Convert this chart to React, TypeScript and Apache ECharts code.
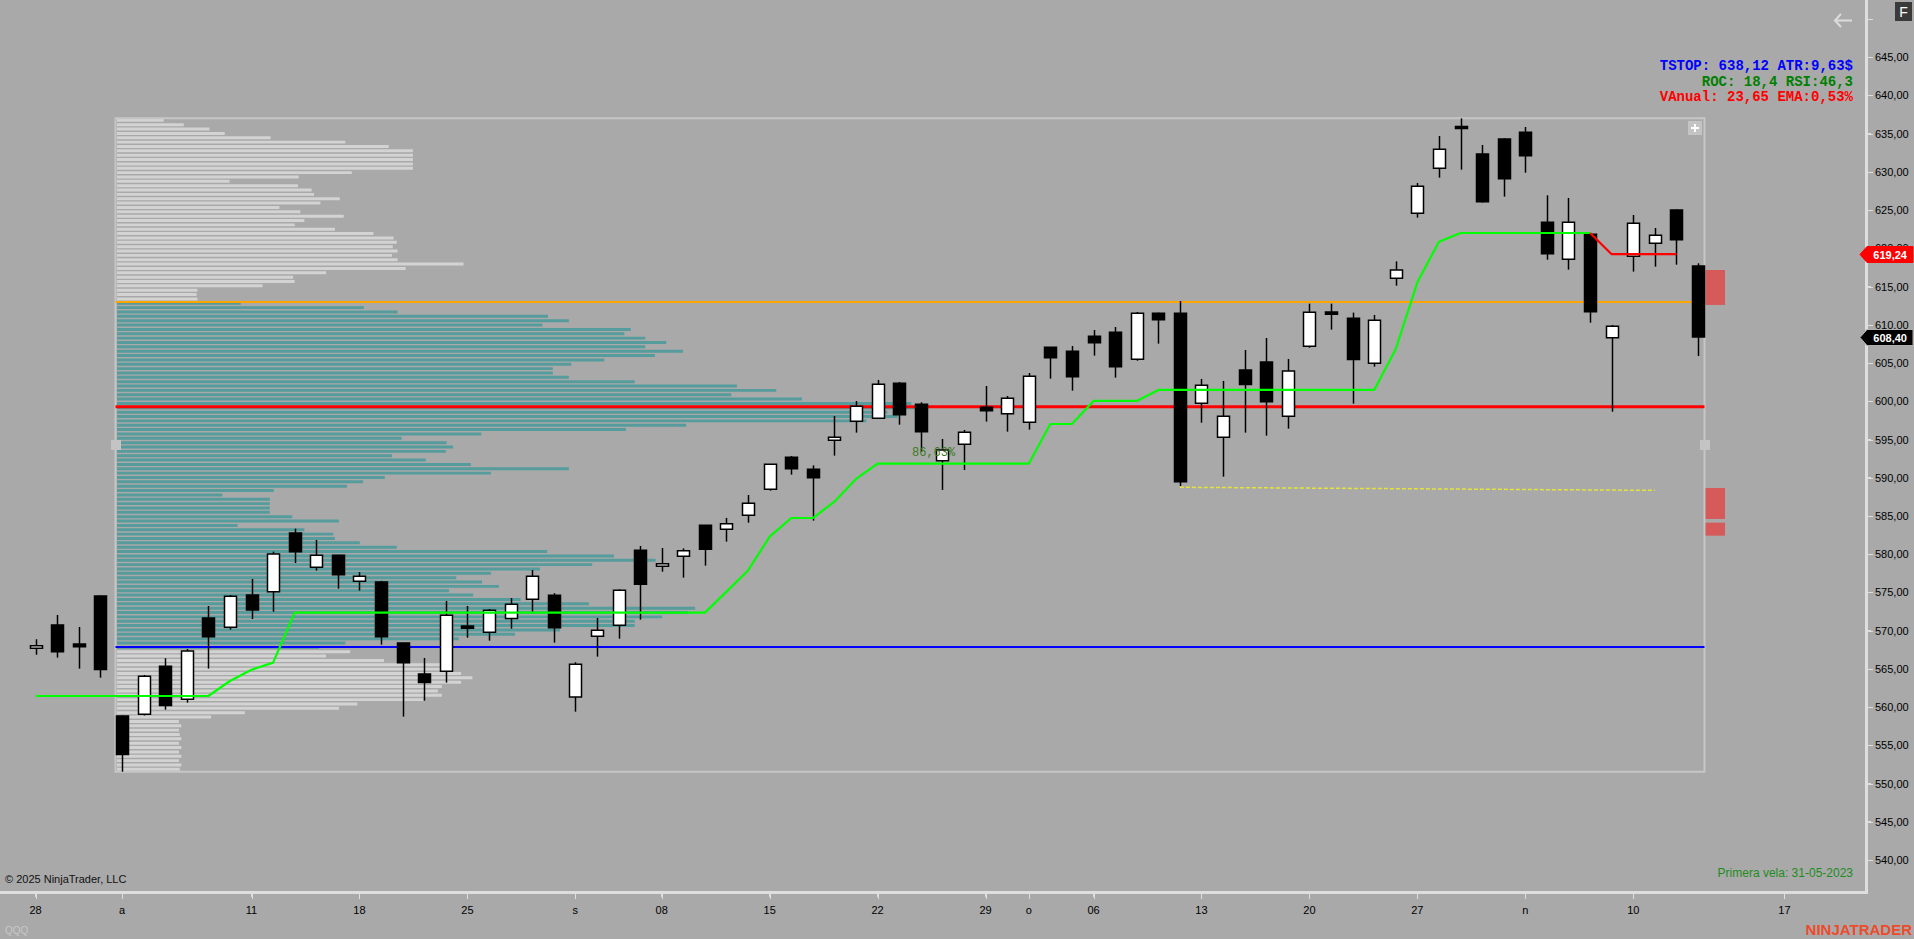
import React, { useEffect, useRef } from "react";
import * as echarts from "echarts";

// ---------- data ----------
const DATES = [
  "2025-07-28","2025-07-29","2025-07-30","2025-07-31","2025-08-01","2025-08-04","2025-08-05","2025-08-06","2025-08-07","2025-08-08",
  "2025-08-11","2025-08-12","2025-08-13","2025-08-14","2025-08-15","2025-08-18","2025-08-19","2025-08-20","2025-08-21","2025-08-22",
  "2025-08-25","2025-08-26","2025-08-27","2025-08-28","2025-08-29","2025-09-02","2025-09-03","2025-09-04","2025-09-05","2025-09-08",
  "2025-09-09","2025-09-10","2025-09-11","2025-09-12","2025-09-15","2025-09-16","2025-09-17","2025-09-18","2025-09-19","2025-09-22",
  "2025-09-23","2025-09-24","2025-09-25","2025-09-26","2025-09-29","2025-09-30","2025-10-01","2025-10-02","2025-10-03","2025-10-06",
  "2025-10-07","2025-10-08","2025-10-09","2025-10-10","2025-10-13","2025-10-14","2025-10-15","2025-10-16","2025-10-17","2025-10-20",
  "2025-10-21","2025-10-22","2025-10-23","2025-10-24","2025-10-27","2025-10-28","2025-10-29","2025-10-30","2025-10-31","2025-11-03",
  "2025-11-04","2025-11-05","2025-11-06","2025-11-07","2025-11-10","2025-11-11","2025-11-12","2025-11-13",
];
const OPEN = [
  567.69,570.74,568.25,574.53,558.84,559.05,565.33,561.02,571.65,570.43,
  574.66,575.10,582.77,578.28,579.85,576.45,576.36,568.38,564.33,564.68,
  570.60,569.78,571.57,574.10,574.62,561.32,569.26,570.69,580.50,578.41,
  579.72,583.78,583.25,585.08,588.48,592.67,591.10,594.89,597.38,597.77,
  602.35,599.60,592.23,594.37,599.21,598.38,597.25,607.06,606.54,608.50,
  609.02,605.49,611.51,611.51,599.73,595.29,604.09,605.14,598.03,607.19,
  611.68,610.85,604.97,616.09,624.59,630.47,635.90,632.35,634.31,635.18,
  623.41,618.57,621.84,608.32,618.96,620.66,625.02,617.70,
];
const HIGH = [
  568.87,572.05,570.48,574.60,558.90,564.20,566.38,567.60,573.22,574.66,
  576.76,580.33,583.34,581.86,579.90,577.67,576.50,568.40,566.42,573.88,
  573.22,572.83,574.27,577.93,574.90,565.86,571.65,575.40,581.07,580.81,
  580.75,583.80,584.74,587.74,591.80,592.85,591.62,598.08,600.04,602.79,
  602.52,599.87,595.07,596.25,602.00,600.69,603.70,607.10,607.23,609.33,
  609.72,611.68,611.60,613.12,602.92,602.66,606.71,608.28,605.53,612.77,
  612.77,611.60,611.29,618.30,628.56,634.70,637.01,633.53,634.40,635.88,
  626.94,626.59,622.00,609.98,624.37,622.67,625.10,618.05,
];
const LOW = [
  566.85,566.47,565.03,563.85,551.55,558.90,559.66,560.58,565.03,570.13,
  571.52,572.48,578.85,577.85,575.49,575.23,568.17,558.75,560.84,563.20,
  569.08,568.69,570.26,572.48,568.43,559.40,566.60,568.95,571.44,577.71,
  576.93,578.50,581.64,584.12,588.30,590.40,584.39,592.89,595.90,597.70,
  596.94,593.41,588.40,591.01,597.34,596.03,596.29,602.96,601.39,605.97,
  603.09,605.30,607.54,588.92,597.20,590.14,595.90,595.50,596.42,607.00,
  609.37,599.69,604.53,615.12,624.02,629.25,630.30,626.00,626.77,629.90,
  618.52,617.22,610.28,598.64,616.96,617.61,617.87,605.93,
];
const CLOSE = [
  568.03,567.25,567.90,564.90,553.78,564.02,560.19,567.34,569.21,574.49,
  572.70,580.03,580.33,579.85,577.32,577.10,569.21,565.81,563.20,572.00,
  570.30,572.66,573.44,577.10,570.39,565.60,570.04,575.27,576.06,578.76,
  580.46,580.64,583.99,586.65,591.75,591.19,590.01,595.29,599.34,602.22,
  598.25,596.03,593.63,595.94,598.77,600.39,603.27,605.71,603.22,607.67,
  604.53,611.51,610.67,589.49,602.09,598.03,602.18,599.95,603.96,611.64,
  611.38,605.45,610.59,617.17,628.12,632.96,635.70,626.11,629.12,632.13,
  619.31,623.41,611.72,609.81,623.28,621.71,621.14,608.40,
];

// Trailing stop (TSTOP) per bar; long (green) up to the flip bar, then short (red)
const TSTOP = [
  561.45,561.45,561.45,561.45,561.45,561.45,561.45,561.45,561.45,563.41,
  564.89,565.81,572.35,572.35,572.35,572.35,572.35,572.35,572.35,572.35,
  572.35,572.35,572.35,572.35,572.35,572.35,572.35,572.35,572.35,572.35,
  572.35,572.35,575.10,577.87,582.29,584.73,584.73,586.87,589.84,591.84,
  591.84,591.84,591.84,591.84,591.84,591.84,591.84,597.03,597.03,600.04,
  600.04,600.04,601.48,601.48,601.48,601.48,601.48,601.48,601.48,601.48,
  601.48,601.48,601.48,606.84,615.56,620.88,622.01,622.01,622.01,622.01,
  622.01,622.01,622.01,619.24,619.24,619.24,619.24,
];
const TSTOP_FLIP_DATE = "2025-11-06";

// Volume profile (Aug 1 -> Nov 13), 150 rows from top (high) to bottom (low), % of POC volume
const PROFILE_START_DATE = "2025-08-01";
const PROFILE_HIGH = 637.01;
const PROFILE_LOW = 551.55;
const PROFILE_VOLUME = [
  5.8, 8.3, 11.5, 13.4, 19.1, 28.4, 33.8, 36.8, 36.8, 36.8,
  36.8, 36.8, 29.2, 22.6, 14.0, 22.5, 24.2, 24.5, 27.7, 25.3,
  20.2, 22.8, 28.2, 23.3, 22.1, 27.1, 31.9, 34.4, 34.8, 34.3,
  34.9, 34.2, 34.9, 43.1, 35.9, 26.0, 21.9, 22.1, 18.1, 10.0,
  9.9, 10.0, 15.4, 30.7, 34.9, 53.6, 56.2, 52.9, 63.9, 63.1,
  65.7, 68.3, 65.7, 70.4, 66.9, 60.6, 56.5, 54.2, 54.2, 56.2,
  64.4, 77.1, 82.0, 76.4, 85.2, 98.8, 100, 95.8, 97.1, 93.2,
  70.8, 63.3, 45.3, 35.4, 41.0, 41.8, 40.9, 34.2, 38.4, 44.0,
  56.2, 46.5, 33.3, 30.6, 28.6, 19.5, 13.1, 19.0, 19.0, 19.0,
  19.0, 21.8, 27.6, 15.0, 23.3, 26.9, 27.1, 30.2, 34.8, 53.5,
  61.8, 67.0, 59.1, 52.6, 46.5, 42.2, 45.4, 47.5, 41.3, 44.3,
  50.2, 58.7, 71.9, 71.0, 67.8, 64.4, 64.4, 55.1, 49.5, 42.5,
  28.4, 25.1, 29.0, 26.0, 33.2, 40.2, 40.3, 42.8, 44.2, 42.8,
  40.4, 39.9, 40.4, 38.1, 29.9, 27.6, 15.9, 11.7, 7.7, 8.0,
  7.7, 7.8, 8.0, 7.7, 8.0, 7.7, 8.0, 7.7, 8.0, 7.8,
];
const VAH = 613.0;
const POC = 599.3;
const VAL = 567.86;

// Zones to the right of the profile (top, bottom)
const ZONE_TOP = [617.17, 588.66, 584.12];
const ZONE_BOTTOM = [612.6, 584.6, 582.42];

// Dashed line from the Oct 10 low
const DASH_DATES = ["2025-10-10", "2025-11-11"];
const DASH_VALUES = [588.75, 588.35];

const STOP_PRICE = 619.24;
const LAST_PRICE = 608.40;

const X_TICK_DATES = [
  "2025-07-28","2025-08-01","2025-08-11","2025-08-18","2025-08-25","2025-09-02","2025-09-08","2025-09-15","2025-09-22",
  "2025-09-29","2025-10-01","2025-10-06","2025-10-13","2025-10-20","2025-10-27","2025-11-03","2025-11-10","2025-11-17",
];
const X_TICK_LABELS = ["28","a","11","18","25","s","08","15","22","29","o","06","13","20","27","n","10","17"];
const Y_TICKS = [540,545,550,555,560,565,570,575,580,585,590,595,600,605,610,615,620,625,630,635,640,645,650];
const Y_LABELS = [540,545,550,555,560,565,570,575,580,585,590,595,600,605,610,615,620,625,630,635,640,645];

const INFO_LINES = ["TSTOP: 638,12 ATR:9,63$", "ROC: 18,4 RSI:46,3", "VAnual: 23,65 EMA:0,53%"];
const INFO_COLORS = ["#0000ff", "#008000", "#ff0000"];
const PCT_LABEL = "86,63%";
const FIRST_BAR = "Primera vela: 31-05-2023";
const COPYRIGHT = "© 2025 NinjaTrader, LLC";
const INSTRUMENT = "QQQ";

// ---------- helpers ----------
const DAY = 86400000;
const lastIdx = DATES.length - 1;
function idxOf(d: string): number {
  const i = DATES.indexOf(d);
  if (i >= 0) return i;
  const diff = Math.round((Date.parse(d) - Date.parse(DATES[lastIdx])) / DAY);
  return lastIdx + diff;
}
const fmt = (v: number) => v.toFixed(2).replace(".", ",");

const X_MIN = -1.65;
const X_MAX = 84.78;
const Y_MIN = 535.81;
const Y_MAX = 652.49;
const BAR_PAD = 0.3;

const BG = "#a9a9a9";
const TEAL = "#579c9c";
const LIGHT = "#d3d3d3";
const AXIS = "#dedede";
const SANS = '"Liberation Sans", Arial, sans-serif';
const MONO = '"Liberation Mono", "DejaVu Sans Mono", monospace';

export default function App() {
  const ref = useRef<HTMLDivElement>(null);
  useEffect(() => {
    document.body.style.margin = "0";
    if (!ref.current) return;
    const chart = echarts.init(ref.current, undefined, { renderer: "svg" });

    const flip = idxOf(TSTOP_FLIP_DATE);
    const profStart = idxOf(PROFILE_START_DATE);
    const boxL = profStart - BAR_PAD;
    const boxR = lastIdx + BAR_PAD;
    const tickIdx = X_TICK_DATES.map(idxOf);
    const labelMap: Record<number, string> = {};
    tickIdx.forEach((i, k) => (labelMap[i] = X_TICK_LABELS[k]));
    const rows = PROFILE_VOLUME.length;
    const rowH = (PROFILE_HIGH - PROFILE_LOW) / rows;

    const hLine = (name: string, v: number, color: string, width: number) => ({
      type: "line",
      name,
      z: 3,
      silent: true,
      showSymbol: false,
      data: [[boxL, v], [boxR, v]],
      lineStyle: { color, width },
    });

    const option: any = {
      animation: false,
      backgroundColor: BG,
      grid: { left: 0, right: 48, top: 0, bottom: 47, containLabel: false },
      xAxis: [
        {
          type: "value",
          min: X_MIN,
          max: X_MAX,
          splitLine: { show: false },
          axisLine: { show: true, onZero: false, lineStyle: { color: AXIS, width: 2 } },
          axisTick: { show: true, length: 5, customValues: tickIdx, lineStyle: { color: AXIS, width: 1 } },
          axisLabel: {
            customValues: tickIdx,
            formatter: (v: number) => labelMap[Math.round(v)] ?? "",
            color: "#000",
            fontSize: 11,
            fontFamily: SANS,
            margin: 12,
          },
        },
        {
          type: "value",
          show: false,
          min: -14.43,
          max: 217.66,
          axisLine: { onZero: false },
        },
      ],
      yAxis: {
        type: "value",
        position: "right",
        min: Y_MIN,
        max: Y_MAX,
        splitLine: { show: false },
        axisLine: { show: true, onZero: false, lineStyle: { color: AXIS, width: 2 } },
        axisTick: { show: true, length: 5, customValues: Y_TICKS, lineStyle: { color: AXIS, width: 1 } },
        axisLabel: {
          customValues: Y_LABELS,
          formatter: (v: number) => fmt(v),
          color: "#000",
          fontSize: 11,
          fontFamily: SANS,
          margin: 9,
        },
      },
      series: [
        // volume profile rows
        {
          type: "custom",
          xAxisIndex: 1,
          yAxisIndex: 0,
          z: 1,
          silent: true,
          data: PROFILE_VOLUME.map((v, r) => [r, v]),
          renderItem: (params: any, api: any) => {
            const r = api.value(0);
            const v = api.value(1);
            const pTop = PROFILE_HIGH - r * rowH;
            const pBot = pTop - rowH;
            const a = api.coord([0, pTop]);
            const b = api.coord([v, pBot]);
            const h = b[1] - a[1];
            const inVA = pBot < VAH && pTop > VAL;
            return {
              type: "rect",
              shape: { x: a[0] + 1, y: a[1] + h * 0.12, width: b[0] - a[0], height: h * 0.68 },
              style: { fill: inVA ? TEAL : LIGHT },
            };
          },
        },
        // profile box
        {
          type: "custom",
          z: 2,
          silent: true,
          data: [[boxL, PROFILE_HIGH, boxR, PROFILE_LOW]],
          renderItem: (params: any, api: any) => {
            const a = api.coord([api.value(0), api.value(1)]);
            const b = api.coord([api.value(2), api.value(3)]);
            return {
              type: "rect",
              shape: { x: a[0], y: a[1], width: b[0] - a[0], height: b[1] - a[1] },
              style: { fill: "none", stroke: "#c6c6c6", lineWidth: 2 },
            };
          },
        },
        hLine("VAH", VAH, "#ffa500", 2),
        hLine("VAL", VAL, "#0000ff", 2),
        // candles
        {
          type: "custom",
          name: "QQQ",
          z: 5,
          silent: true,
          data: DATES.map((d, i) => [i, OPEN[i], CLOSE[i], LOW[i], HIGH[i]]),
          renderItem: (params: any, api: any) => {
            const i = api.value(0);
            const o = api.value(1), c = api.value(2), l = api.value(3), h = api.value(4);
            const pO = api.coord([i, o]);
            const pC = api.coord([i, c]);
            const pL = api.coord([i, l]);
            const pH = api.coord([i, h]);
            const w = Math.round(api.size([1, 0])[0] * 0.55);
            const x = Math.round(pO[0]) + 0.5;
            let top = Math.min(pO[1], pC[1]);
            let hh = Math.abs(pO[1] - pC[1]);
            if (hh < 2) {
              top = (pO[1] + pC[1]) / 2 - 1;
              hh = 2;
            }
            const up = c >= o;
            return {
              type: "group",
              children: [
                { type: "line", shape: { x1: x, y1: pH[1], x2: x, y2: pL[1] }, style: { stroke: "#000", lineWidth: 1.5 } },
                {
                  type: "rect",
                  shape: { x: x - w / 2, y: top, width: w, height: hh },
                  style: { fill: up ? "#ffffff" : "#000000", stroke: "#000", lineWidth: 1.5 },
                },
              ],
            };
          },
        },
        hLine("POC", POC, "#ff0000", 3),
        // dashed line
        {
          type: "line",
          z: 4,
          silent: true,
          showSymbol: false,
          data: DASH_DATES.map((d, k) => [idxOf(d), DASH_VALUES[k]]),
          lineStyle: { color: "#e4e43c", width: 1.5, type: [4, 2] },
        },
        // trailing stop
        {
          type: "line",
          name: "TSTOP long",
          z: 6,
          silent: true,
          showSymbol: false,
          data: TSTOP.slice(0, flip + 1).map((v, i) => [i, v]),
          lineStyle: { color: "#00ff00", width: 2.2 },
        },
        {
          type: "line",
          name: "TSTOP short",
          z: 6,
          silent: true,
          showSymbol: false,
          data: TSTOP.slice(flip).map((v, k) => [flip + k, v]),
          lineStyle: { color: "#ff0000", width: 2.2 },
        },
        // zones right of the profile
        {
          type: "custom",
          z: 3,
          silent: true,
          clip: false,
          data: ZONE_TOP.map((t, k) => [t, ZONE_BOTTOM[k]]),
          renderItem: (params: any, api: any) => {
            const a = api.coord([lastIdx + 0.35, api.value(0)]);
            const b = api.coord([lastIdx + 1.25, api.value(1)]);
            return {
              type: "rect",
              shape: { x: a[0], y: a[1], width: b[0] - a[0], height: b[1] - a[1] },
              style: { fill: "#d65a5a" },
            };
          },
        },
        // axis frame lines and tick marks (drawn through the axes' scales)
        {
          type: "custom",
          z: 15,
          silent: true,
          clip: false,
          data: [[X_MIN, Y_MIN, X_MAX, Y_MAX]],
          renderItem: (params: any, api: any) => {
            const bl = api.coord([api.value(0), api.value(1)]);
            const tr = api.coord([api.value(2), api.value(3)]);
            const xr = Math.round(tr[0]) + 1;
            const yb = Math.round(bl[1]) + 1;
            const children: any[] = [
              { type: "rect", shape: { x: xr - 1, y: 0, width: 2, height: yb + 1 }, style: { fill: AXIS } },
              { type: "rect", shape: { x: 0, y: yb - 1, width: xr + 1, height: 2 }, style: { fill: AXIS } },
            ];
            Y_TICKS.forEach((v) => {
              const y = Math.round(api.coord([X_MAX, v])[1]);
              children.push({ type: "rect", shape: { x: xr, y: y, width: 6, height: 1 }, style: { fill: AXIS } });
            });
            tickIdx.forEach((i) => {
              const x = Math.round(api.coord([i, Y_MIN])[0]);
              children.push({ type: "rect", shape: { x: x, y: yb, width: 1, height: 6 }, style: { fill: AXIS } });
            });
            return { type: "group", children };
          },
        },
        // price tags on the axis
        {
          type: "custom",
          z: 20,
          silent: true,
          clip: false,
          data: [[X_MAX, STOP_PRICE], [X_MAX, LAST_PRICE]],
          renderItem: (params: any, api: any) => {
            const p = api.value(1);
            const pt = api.coord([api.value(0), p]);
            const x = pt[0], y = Math.round(pt[1]) + 0.5;
            const isStop = params.dataIndex === 0;
            return {
              type: "group",
              children: [
                {
                  type: "polygon",
                  shape: { points: [[x - 6, y], [x + 1, y - 8], [x + 47, y - 8], [x + 47, y + 8], [x + 1, y + 8]] },
                  style: { fill: isStop ? "#ff0000" : "#000000", stroke: isStop ? "#ff0000" : "#b0b0b0", lineWidth: 1 },
                },
                {
                  type: "text",
                  style: {
                    text: fmt(p),
                    x: x + 41,
                    y,
                    textAlign: "right",
                    textVerticalAlign: "middle",
                    fill: "#ffffff",
                    font: `bold 11px ${SANS}`,
                  },
                },
              ],
            };
          },
        },
      ],
      graphic: [
        ...INFO_LINES.map((t, k) => ({
          type: "text",
          z: 100,
          style: {
            text: t,
            x: 1853,
            y: 66 + k * 15.5,
            textAlign: "right",
            textVerticalAlign: "middle",
            fill: INFO_COLORS[k],
            font: `bold 14px ${MONO}`,
          },
        })),
        {
          type: "text",
          z: 100,
          style: { text: PCT_LABEL, x: 912, y: 453, textVerticalAlign: "middle", fill: "#3d7a1f", font: `12px ${MONO}` },
        },
        {
          type: "text",
          z: 100,
          style: { text: FIRST_BAR, x: 1853, y: 873, textAlign: "right", textVerticalAlign: "middle", fill: "#1e8c1e", font: `12px ${SANS}` },
        },
        {
          type: "text",
          z: 100,
          style: { text: COPYRIGHT, x: 5, y: 879, textVerticalAlign: "middle", fill: "#111", font: `11px ${SANS}` },
        },
        {
          type: "text",
          z: 100,
          style: { text: INSTRUMENT, x: 5, y: 930, textVerticalAlign: "middle", fill: "#c8c8c8", font: `10px ${SANS}` },
        },
        {
          type: "text",
          z: 100,
          style: { text: "NINJATRADER", x: 1912, y: 929, textAlign: "right", textVerticalAlign: "middle", fill: "#ee4b2b", font: `bold 15px ${SANS}` },
        },
        // top-right buttons
        { type: "rect", z: 100, shape: { x: 1895, y: 2, width: 17, height: 19 }, style: { fill: "#3a3a3a" } },
        {
          type: "text",
          z: 101,
          style: { text: "F", x: 1903.5, y: 12, textAlign: "center", textVerticalAlign: "middle", fill: "#ffffff", font: `14px ${SANS}` },
        },
        { type: "line", z: 100, shape: { x1: 1835, y1: 20.5, x2: 1852, y2: 20.5 }, style: { stroke: "#dcdcdc", lineWidth: 2 } },
        { type: "polyline", z: 100, shape: { points: [[1841, 14], [1835, 20.5], [1841, 27]] }, style: { stroke: "#dcdcdc", lineWidth: 2, fill: "none" } },
        // profile box handles
        { type: "rect", z: 100, shape: { x: 1688, y: 121, width: 14, height: 14 }, style: { fill: "#c4c4c4" } },
        { type: "line", z: 101, shape: { x1: 1691, y1: 128, x2: 1699, y2: 128 }, style: { stroke: "#fff", lineWidth: 2 } },
        { type: "line", z: 101, shape: { x1: 1695, y1: 124, x2: 1695, y2: 132 }, style: { stroke: "#fff", lineWidth: 2 } },
        { type: "rect", z: 100, shape: { x: 111, y: 440, width: 10, height: 10 }, style: { fill: "#c4c4c4" } },
        { type: "rect", z: 100, shape: { x: 1700, y: 440, width: 10, height: 10 }, style: { fill: "#c4c4c4" } },
      ],
    };

    chart.setOption(option);
    return () => chart.dispose();
  }, []);

  return <div ref={ref} style={{ position: "absolute", left: 0, top: 0, width: 1914, height: 939 }} />;
}
